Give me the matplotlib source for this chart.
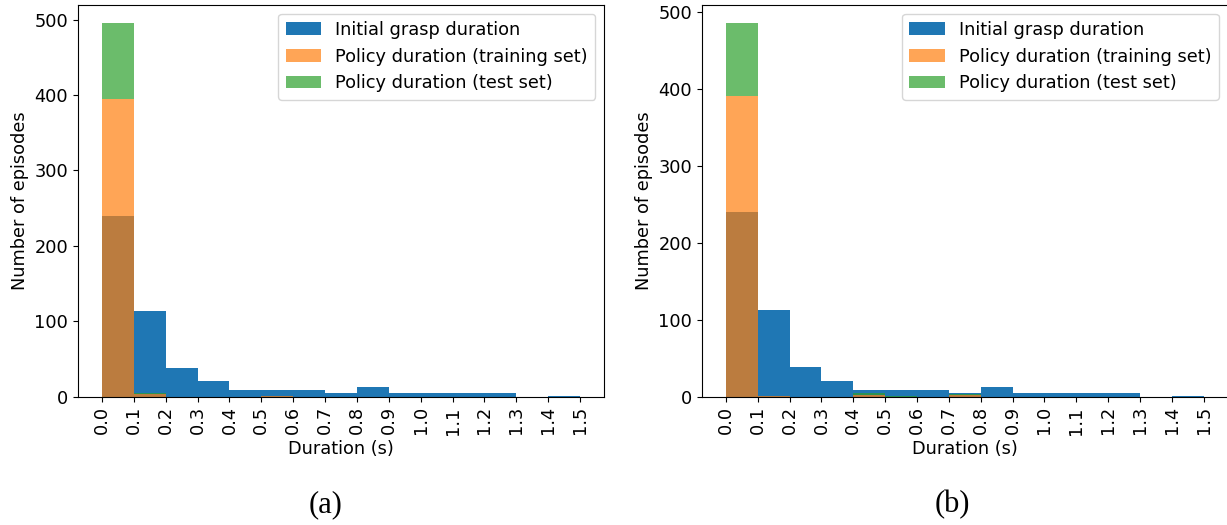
import numpy as np
import matplotlib
matplotlib.use("Agg")
import matplotlib.pyplot as plt

# Histogram bin edges (seconds) and tick labels
bin_edges = [round(0.1 * i, 1) for i in range(16)]
tick_labels = ["0.0", "0.1", "0.2", "0.3", "0.4", "0.5", "0.6", "0.7",
               "0.8", "0.9", "1.0", "1.1", "1.2", "1.3", "1.4", "1.5"]

# Episode counts per 0.1 s bin
grasp_counts = [240, 113, 38, 20, 9, 9, 8, 4, 12, 5, 4, 5, 5, 0, 1]

train_counts_a = [395, 3, 0, 0, 0, 1, 0, 0, 0, 0, 0, 0, 0, 0, 0]
test_counts_a = [100, 1, 0, 0, 0, 0, 0, 0, 0, 0, 0, 0, 0, 0, 0]

train_counts_b = [390, 1, 0, 0, 2, 0, 0, 2, 0, 0, 0, 0, 0, 0, 0]
test_counts_b = [95, 0, 0, 0, 3, 1, 0, 1, 0, 0, 0, 0, 0, 0, 0]

panel_captions = ["(a)", "(b)"]

plt.rcParams["font.family"] = "DejaVu Sans"
plt.rcParams["font.size"] = 12.8

fig = plt.figure(figsize=(12.27, 5.25), dpi=100)
W, H = 1227.0, 525.0


def axes_rect(x0, x1, y_top, y_bottom):
    return [x0 / W, 1 - y_bottom / H, (x1 - x0) / W, (y_bottom - y_top) / H]


ax_a = fig.add_axes(axes_rect(78, 604, 4.7, 396.5))
ax_b = fig.add_axes(axes_rect(702, 1227.5, 4.7, 396.5))

centers = [(bin_edges[i] + bin_edges[i + 1]) / 2 for i in range(len(bin_edges) - 1)]


def draw_panel(ax, train, test):
    ax.hist(centers, bins=bin_edges, weights=grasp_counts,
            color="tab:blue", label="Initial grasp duration")
    ax.hist([centers, centers], bins=bin_edges, weights=[train, test],
            stacked=True, alpha=0.7, color=["tab:orange", "tab:green"],
            label=["Policy duration (training set)", "Policy duration (test set)"])
    ax.set_xticks(bin_edges)
    ax.set_xticklabels(tick_labels, rotation=90)
    ax.set_xlabel("Duration (s)")
    ax.set_ylabel("Number of episodes")
    ax.legend(loc="upper right")


draw_panel(ax_a, train_counts_a, test_counts_a)
draw_panel(ax_b, train_counts_b, test_counts_b)

for cx, cap in zip([326, 952], panel_captions):
    fig.text(cx / W, 1 - 505 / H, cap, ha="center", va="center",
             family="Liberation Serif", fontsize=22)

fig.savefig("out.png", dpi=100)
